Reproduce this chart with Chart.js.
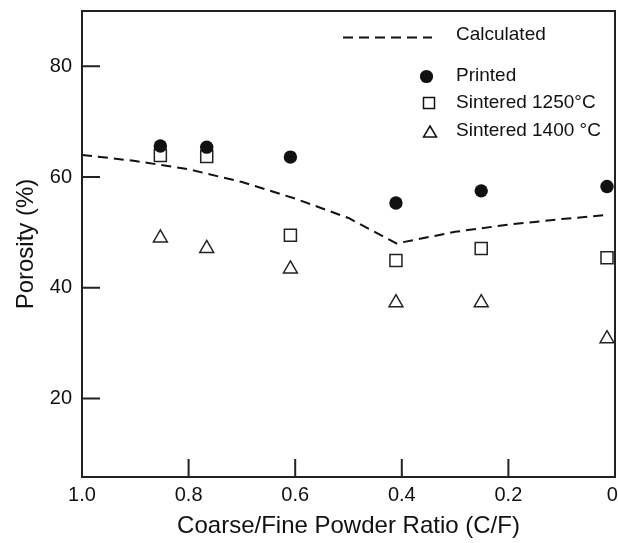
<!DOCTYPE html>
<html>
<head>
<meta charset="utf-8">
<script src="https://cdn.jsdelivr.net/npm/chart.js@4"></script>
<style>
  html, body { margin: 0; padding: 0; background: #fff; overflow: hidden; }
  #wrap { width: 618px; height: 543px; }
</style>
</head>
<body>
<div id="wrap"><canvas id="porosityChart" width="618" height="543"></canvas></div>
<script>
// values
const ratioMeasured = [0.853, 0.766, 0.609, 0.411, 0.251, 0.015];
const printed = [65.6, 65.4, 63.6, 55.3, 57.5, 58.3];
const sintered1250 = [63.9, 63.7, 49.5, 44.9, 47.1, 45.4];
const sintered1400 = [49.0, 47.1, 43.4, 37.3, 37.3, 30.8];

const ratioCalc = [1.0, 0.9, 0.8, 0.7, 0.6, 0.5, 0.41, 0.3, 0.2, 0.1, 0.02];
const calculated = [64.0, 62.9, 61.4, 59.1, 56.1, 52.6, 48.0, 50.1, 51.4, 52.4, 53.1];

const xTicks = [1.0, 0.8, 0.6, 0.4, 0.2, 0];
const yTicks = [20, 40, 60, 80];

const fontFamily = '"Liberation Sans", Arial, Helvetica, sans-serif';

function pairs(xs, ys) {
    return xs.map((x, i) => ({ x: x, y: ys[i] }));
}

// box frame + inward ticks
const frame = {
    id: 'frame',
    afterDraw(chart) {
        const ctx = chart.ctx;
        const a = chart.chartArea;
        const xs = chart.scales.x, ys = chart.scales.y;
        ctx.save();
        ctx.strokeStyle = '#222';
        ctx.lineWidth = 2;
        ctx.strokeRect(a.left, a.top, a.right - a.left, a.bottom - a.top);
        ctx.beginPath();
        yTicks.forEach(v => {
            const p = ys.getPixelForValue(v);
            ctx.moveTo(a.left, p);
            ctx.lineTo(a.left + 18, p);
        });
        xTicks.forEach(v => {
            const p = xs.getPixelForValue(v);
            ctx.moveTo(p, a.bottom);
            ctx.lineTo(p, a.bottom - 18);
        });
        ctx.stroke();
        ctx.restore();
    }
};

// legend drawn in the upper right as in the figure
const legendBox = {
    id: 'legendBox',
    afterDraw(chart) {
        const ctx = chart.ctx;
        ctx.save();
        ctx.fillStyle = '#111';
        ctx.font = '19px ' + fontFamily;
        ctx.textBaseline = 'middle';
        ctx.textAlign = 'left';

        ctx.strokeStyle = '#111';
        ctx.lineWidth = 2;
        ctx.setLineDash([10, 6]);
        ctx.beginPath();
        ctx.moveTo(343, 37.5);
        ctx.lineTo(432, 37.5);
        ctx.stroke();
        ctx.setLineDash([]);
        ctx.fillText('Calculated', 456, 35);

        ctx.beginPath();
        ctx.arc(426.5, 76.5, 6.6, 0, Math.PI * 2);
        ctx.fill();
        ctx.fillText('Printed', 456, 76);

        ctx.lineWidth = 1.5;
        ctx.strokeRect(423.5, 97.5, 11, 11);
        ctx.fillText('Sintered 1250°C', 456, 103);

        ctx.beginPath();
        ctx.moveTo(430, 126);
        ctx.lineTo(436.5, 137);
        ctx.lineTo(423.5, 137);
        ctx.closePath();
        ctx.stroke();
        ctx.fillText('Sintered 1400 °C', 456, 131);
        ctx.restore();
    }
};

const ctx = document.getElementById('porosityChart').getContext('2d');
new Chart(ctx, {
    type: 'scatter',
    data: {
        datasets: [
            {
                label: 'Calculated',
                type: 'line',
                data: pairs(ratioCalc, calculated),
                borderColor: '#111',
                borderWidth: 2,
                borderDash: [10, 6],
                pointRadius: 0,
                tension: 0,
                fill: false
            },
            {
                label: 'Printed',
                data: pairs(ratioMeasured, printed),
                pointStyle: 'circle',
                pointRadius: 6.7,
                backgroundColor: '#111',
                borderColor: '#111',
                borderWidth: 0
            },
            {
                label: 'Sintered 1250°C',
                data: pairs(ratioMeasured, sintered1250),
                pointStyle: 'rect',
                pointRadius: 8.5,
                backgroundColor: 'rgba(255,255,255,0)',
                borderColor: '#222',
                borderWidth: 1.5
            },
            {
                label: 'Sintered 1400 °C',
                data: pairs(ratioMeasured, sintered1400),
                pointStyle: 'triangle',
                pointRadius: 8,
                backgroundColor: 'rgba(255,255,255,0)',
                borderColor: '#222',
                borderWidth: 1.5
            }
        ]
    },
    options: {
        responsive: false,
        animation: false,
        clip: false,
        layout: { autoPadding: false, padding: { left: 0, right: 3, top: 11, bottom: 0 } },
        plugins: {
            legend: { display: false },
            tooltip: { enabled: false }
        },
        scales: {
            x: {
                type: 'linear',
                reverse: true,
                min: 0,
                max: 1,
                afterBuildTicks: s => { s.ticks = xTicks.map(v => ({ value: v })); },
                afterFit: s => { s.height = 66; s.paddingLeft = 0; s.paddingRight = 0; },
                grid: { display: false, drawTicks: false },
                border: { display: false },
                ticks: {
                    padding: 6,
                    color: '#111',
                    font: { family: fontFamily, size: 20 },
                    // trailing space keeps the last label inside the canvas like the original
                    callback: v => v === 0 ? '0 ' : v.toFixed(1)
                },
                title: {
                    display: true,
                    text: 'Coarse/Fine Powder Ratio (C/F)',
                    color: '#111',
                    font: { family: fontFamily, size: 24 },
                    padding: { top: 0, bottom: 2 }
                }
            },
            y: {
                min: 5.8,
                max: 90,
                afterBuildTicks: s => { s.ticks = yTicks.map(v => ({ value: v })); },
                afterFit: s => { s.width = 82; s.paddingTop = 0; s.paddingBottom = 0; },
                grid: { display: false, drawTicks: false },
                border: { display: false },
                ticks: {
                    padding: 10,
                    color: '#111',
                    font: { family: fontFamily, size: 20 }
                },
                title: {
                    display: true,
                    text: 'Porosity (%)',
                    color: '#111',
                    font: { family: fontFamily, size: 24 },
                    padding: { top: 12, bottom: 0 }
                }
            }
        }
    },
    plugins: [frame, legendBox]
});
</script>
</body>
</html>
